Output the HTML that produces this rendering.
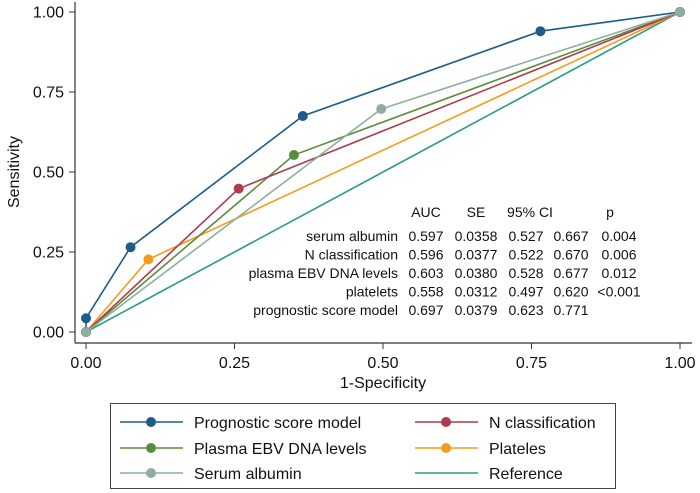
<!DOCTYPE html>
<html><head><meta charset="utf-8"><style>
body{margin:0;background:#fff;}
svg{display:block;font-family:"Liberation Sans",Arial,sans-serif;}
</style></head><body>
<svg id="chart" width="700" height="493" viewBox="0 0 700 493">
<g id="axes"></g><g id="marks"></g>
<g id="table" font-size="14" fill="#111"></g>
<g id="legend"></g>
</svg>
<script>
const xTicks=[0,0.25,0.5,0.75,1];
const xTickLabels=["0.00","0.25","0.50","0.75","1.00"];
const yTicks=[0,0.25,0.5,0.75,1];
const yTickLabels=["0.00","0.25","0.50","0.75","1.00"];
const seriesNames=["Prognostic score model","N classification","Plasma EBV DNA levels","Plateles","Serum albumin","Reference"];
const seriesColors=["#1c5c8c","#b03a4c","#5b8c3c","#f59c1a","#8caf9f","#2a9a8a"];
const progX=[0,0,0.075,0.365,0.765,1];
const progY=[0,0.043,0.265,0.675,0.94,1];
const nclsX=[0,0.257,1];
const nclsY=[0,0.448,1];
const ebvX=[0,0.35,1];
const ebvY=[0,0.553,1];
const platX=[0,0.105,1];
const platY=[0,0.227,1];
const albX=[0,0.497,1];
const albY=[0,0.697,1];
const refX=[0,1];
const refY=[0,1];
const tableHeader=["AUC","SE","95% CI","p"];
const tableRows=["serum albumin","N classification","plasma EBV DNA levels","platelets","prognostic score model"];
const tableVals=[["0.597","0.0358","0.527","0.667","0.004"],["0.596","0.0377","0.522","0.670","0.006"],["0.603","0.0380","0.528","0.677","0.012"],["0.558","0.0312","0.497","0.620","<0.001"],["0.697","0.0379","0.623","0.771",""]];

const NS="http://www.w3.org/2000/svg";
function X(v){return 86+v*594;}
function Y(v){return 332-v*320;}
function mk(tag,attrs,parent,text){const e=document.createElementNS(NS,tag);for(const k in attrs)e.setAttribute(k,attrs[k]);if(text!==undefined)e.textContent=text;parent.appendChild(e);return e;}
const axes=document.getElementById('axes'),marks=document.getElementById('marks'),table=document.getElementById('table'),legend=document.getElementById('legend');
let e;
e=mk('line',{x1:75,y1:2,x2:75,y2:343,stroke:'#333','stroke-width':1.2},axes);


e=mk('line',{x1:75,y1:343,x2:692,y2:343,stroke:'#333','stroke-width':1.2},axes);


yTicks.forEach((t,i)=>{
 mk('line',{x1:69,y1:Y(t),x2:75,y2:Y(t),stroke:'#333'},axes);
 e=mk('text',{x:64,y:Y(t)+5.5,'text-anchor':'end','font-size':16,fill:'#111'},axes,yTickLabels[i]);
 
 
});
xTicks.forEach((t,i)=>{
 mk('line',{x1:X(t),y1:343,x2:X(t),y2:349,stroke:'#333'},axes);
 e=mk('text',{x:X(t),y:368,'text-anchor':'middle','font-size':16,fill:'#111'},axes,xTickLabels[i]);
 
 
});
e=mk('text',{x:383,y:388,'text-anchor':'middle','font-size':16,fill:'#111'},axes,'1-Specificity');


e=mk('text',{x:19,y:172,'text-anchor':'middle','font-size':16,fill:'#111',transform:'rotate(-90 19 172)'},axes,'Sensitivity');



const series=[[refX,refY,false],[platX,platY,true],[ebvX,ebvY,true],[nclsX,nclsY,true],[progX,progY,true],[albX,albY,true]];
const idx=[5,3,2,1,0,4];
series.forEach((s,j)=>{
 const i=idx[j];const c=seriesColors[i];
 const pts=s[0].map((x,k)=>X(x)+','+Y(s[1][k])).join(' ');
 e=mk('polyline',{points:pts,fill:'none',stroke:c,'stroke-width':1.6},marks);
 
 
 if(s[2]) s[0].forEach((x,k)=>{
  e=mk('circle',{cx:X(x),cy:Y(s[1][k]),r:5,fill:c},marks);
  
  
 });
});

const colX=[426,476,526,571,619];
const hdrX=[426,476,530,610];
tableHeader.forEach((h,i)=>{e=mk('text',{x:hdrX[i],y:217,'text-anchor':'middle'},table,h);
 
 });
tableRows.forEach((r,i)=>{
 const y=241+i*18.5;
 e=mk('text',{x:398,y:y,'text-anchor':'end'},table,r);
 
 
 tableVals[i].forEach((v,k)=>{e=mk('text',{x:colX[k],y:y,'text-anchor':'middle'},table,v);
  
  });
});

e=mk('rect',{x:110.5,y:403.5,width:505,height:85,fill:'none',stroke:'#444','stroke-width':1},legend);


const legPos=[[120,422],[415,422],[120,448],[415,448],[120,473],[415,473]];
seriesNames.forEach((n,i)=>{
 const [lx,ly]=legPos[i];const c=seriesColors[i];
 const g=mk('g',{},legend);
 
 
 mk('line',{x1:lx,y1:ly,x2:lx+63,y2:ly,stroke:c,'stroke-width':1.6},g);
 if(i<5) mk('circle',{cx:lx+31,cy:ly,r:5,fill:c},g);
 mk('text',{x:lx+74,y:ly+6,'font-size':16,fill:'#111'},g,n);
});
</script>
</body></html>
